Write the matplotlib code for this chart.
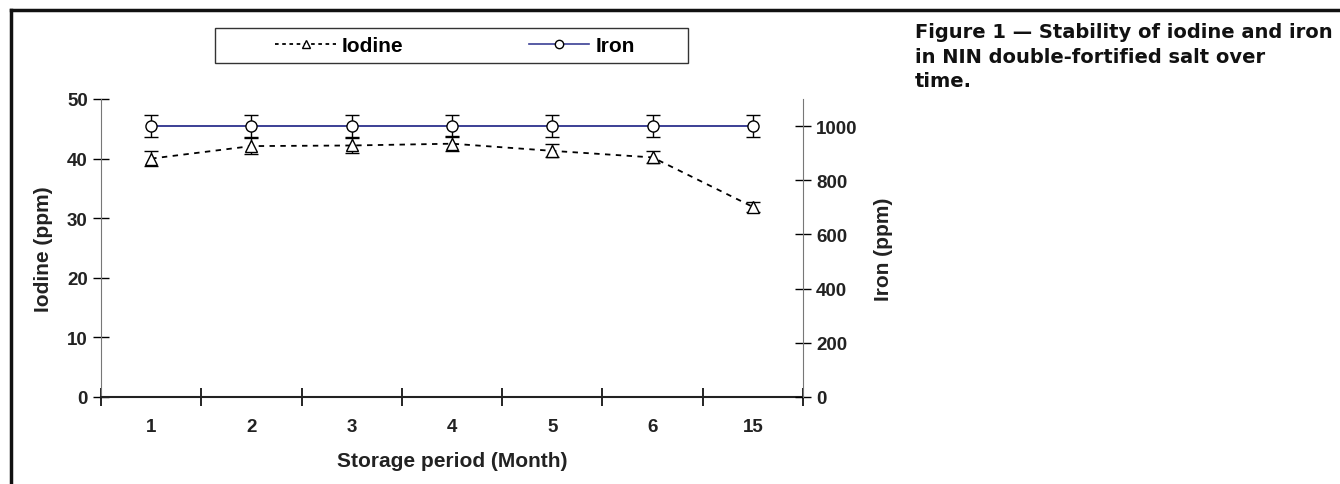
import matplotlib.pyplot as plt
from matplotlib.lines import Line2D
from matplotlib.patches import Rectangle
import numpy as np

# 保存期間（カテゴリ）
months = ['1', '2', '3', '4', '5', '6', '15']
# ヨウ素 (ppm)
iodine = [40.0, 42.1, 42.2, 42.5, 41.3, 40.2, 31.9]
iodine_err = [1.3, 1.3, 1.3, 1.3, 1.1, 1.0, 0.8]
# 鉄 (ppm)
iron = [1000, 1000, 1000, 1000, 1000, 1000, 1000]
iron_err = [40, 40, 40, 40, 40, 40, 40]

caption = ('Figure 1 \u2014 Stability of iodine and iron\n'
           'in NIN double-fortified salt over\n'
           'time.')

plt.rcParams['font.family'] = ['Liberation Sans', 'DejaVu Sans']

fig = plt.figure(figsize=(13.4, 4.85), dpi=100)
ax = fig.add_axes([101/1340, 87/485, 702/1340, 298/485])
ax2 = ax.twinx()

x = np.arange(1, len(months) + 1)
iron_col = '#3b3f95'

ax2.errorbar(x, iron, yerr=iron_err, color=iron_col, lw=1.4,
             marker='o', ms=8, mfc='white', mec='black', mew=1.0,
             ecolor='black', elinewidth=1.0, capsize=5, capthick=1.0, zorder=3)
ax.errorbar(x, iodine, yerr=iodine_err, color='black', lw=1.3, ls=(0, (3, 3)),
            marker='^', ms=8, mfc='white', mec='black', mew=1.0,
            ecolor='black', elinewidth=1.0, capsize=5, capthick=1.0, zorder=3)

ax.set_xlim(0.5, len(months) + 0.5)
ax.set_ylim(0, 50)
ax2.set_ylim(0, 1100)
ax.set_yticks([0, 10, 20, 30, 40, 50])
ax2.set_yticks([0, 200, 400, 600, 800, 1000])

# x軸: 目盛りはカテゴリの境界、ラベルは中央
ax.set_xticks(np.arange(0.5, len(months) + 1, 1.0))
ax.set_xticklabels([])
ax.set_xticks(x, minor=True)
ax.set_xticklabels(months, minor=True)
ax.tick_params(axis='x', which='minor', length=0, pad=15)
ax.tick_params(axis='x', which='major', direction='inout', length=13, width=1.2)
ax.tick_params(axis='y', direction='inout', length=11, width=1.0, pad=4)
ax2.tick_params(axis='y', direction='inout', length=11, width=1.0, pad=4)

for a in (ax, ax2):
    for lab in a.get_xticklabels(which='both') + a.get_yticklabels():
        lab.set_fontsize(13.5)
        lab.set_fontweight('bold')
        lab.set_color('#222222')
    a.spines['top'].set_visible(False)

ax.spines['left'].set_color('#777777')
ax2.spines['left'].set_visible(False)
ax2.spines['right'].set_color('#777777')
ax2.spines['bottom'].set_visible(False)
ax.spines['right'].set_visible(False)
ax.spines['bottom'].set_linewidth(1.5)
ax.spines['bottom'].set_color('#222222')

ax.set_xlabel('Storage period (Month)', fontsize=15, fontweight='bold',
              labelpad=12, color='#222222')
ax.set_ylabel('Iodine (ppm)', fontsize=15, fontweight='bold', labelpad=10,
              color='#222222')
ax2.set_ylabel('Iron (ppm)', fontsize=15, fontweight='bold', labelpad=12,
               color='#222222')

# 凡例（枠は別に描く）
fig.add_artist(Rectangle((215/1340, 1 - 64/485), 473/1340, 35/485,
                         transform=fig.transFigure, fill=False,
                         edgecolor='#333333', lw=1.0))
handles = [
    Line2D([], [], color='black', lw=1.3, ls=(0, (2, 2)), marker='^', ms=6,
           mfc='white', mec='black'),
    Line2D([], [], color=iron_col, lw=1.2, marker='o', ms=6, mfc='white',
           mec='black'),
]
fig.legend(handles, ['Iodine', 'Iron'], ncol=2,
           bbox_to_anchor=(455/1340, 1 - 46.5/485), loc='center',
           frameon=False, handlelength=2.9, handletextpad=0.3,
           columnspacing=6.0, prop={'size': 15, 'weight': 'bold'})

fig.text(915/1340, 1 - 23/485, caption, fontsize=14, fontweight='bold',
         family='DejaVu Sans', va='top', ha='left', linespacing=1.38,
         color='#111111')

# 外枠（上と左）
fig.add_artist(Line2D([11/1340, 1], [1 - 11/485, 1 - 11/485], color='#111111',
                      lw=2.5, transform=fig.transFigure))
fig.add_artist(Line2D([11/1340, 11/1340], [0, 1 - 11/485], color='#111111',
                      lw=2.5, transform=fig.transFigure))

fig.savefig('out.png', dpi=100)
